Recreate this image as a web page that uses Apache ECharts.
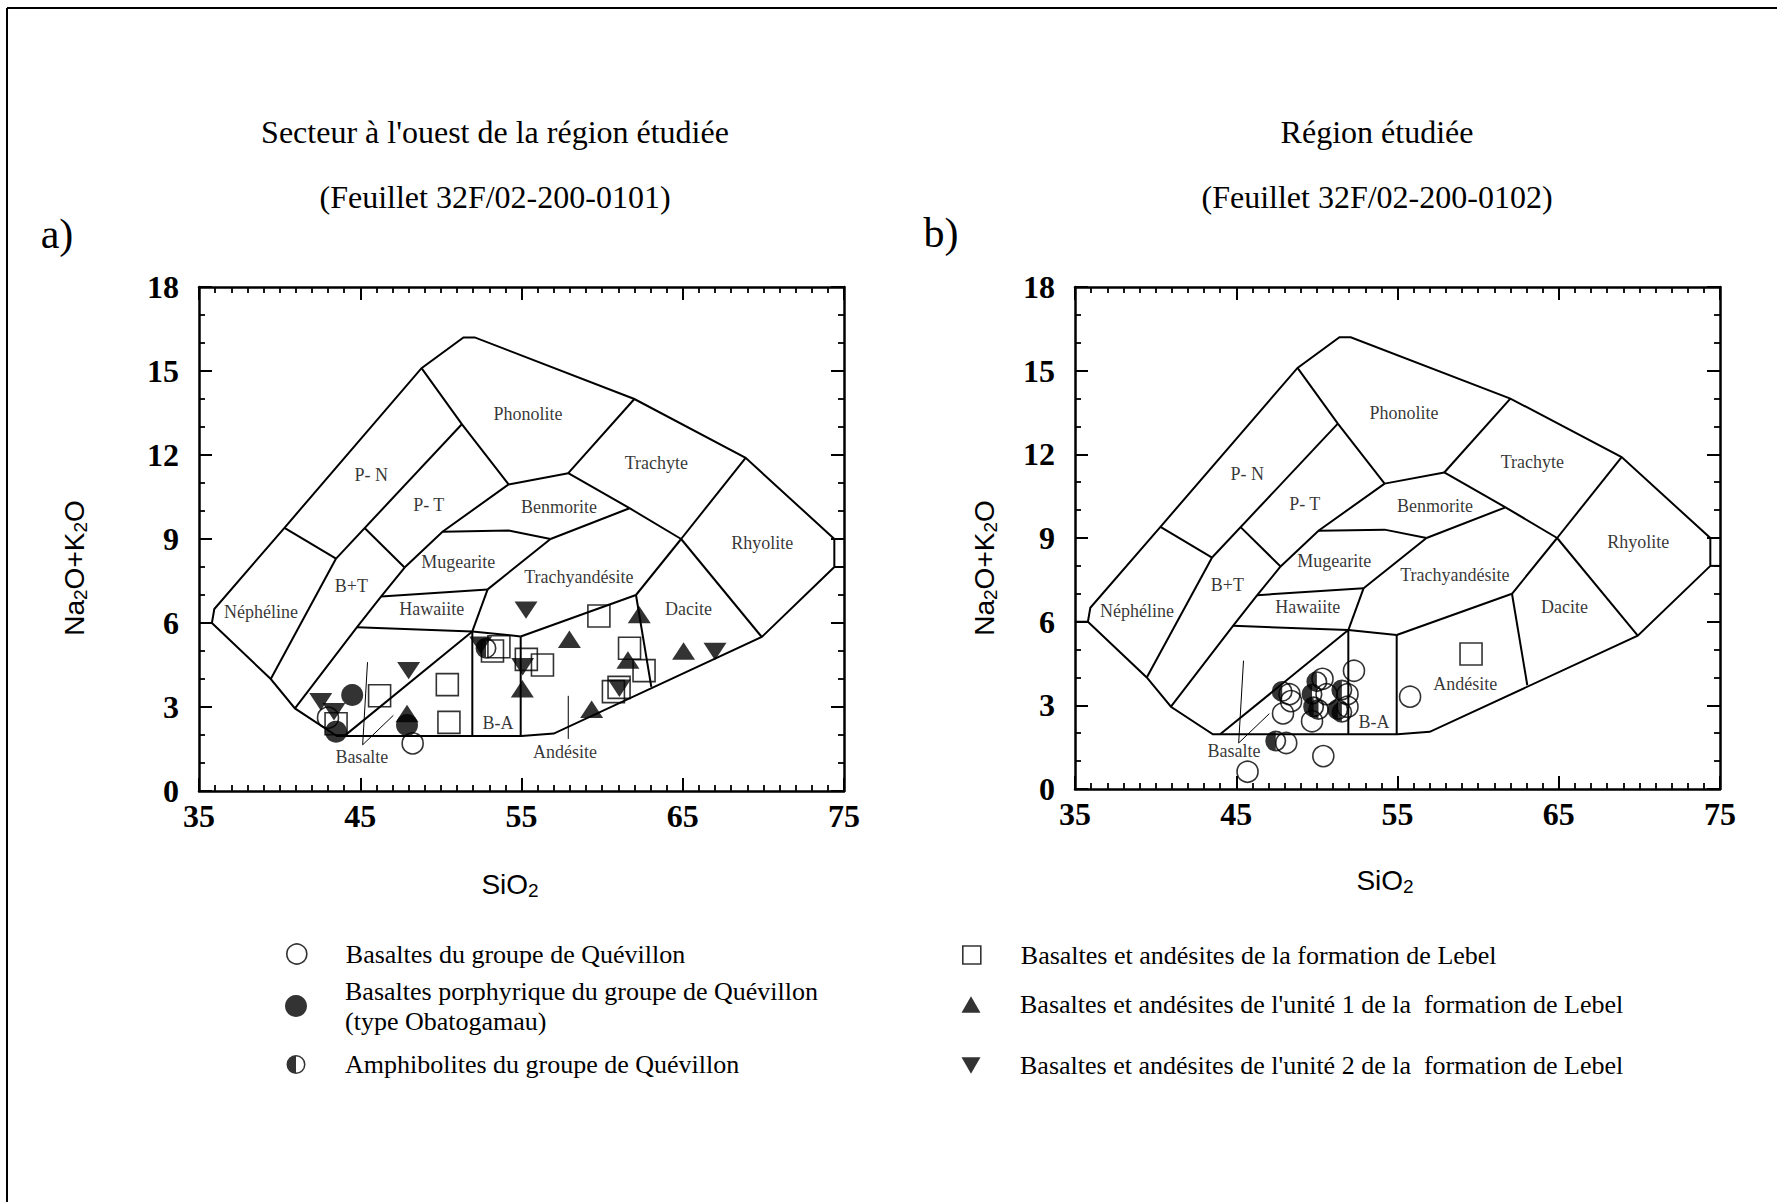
<!DOCTYPE html>
<html>
<head>
<meta charset="utf-8">
<script src="https://cdn.jsdelivr.net/npm/echarts@6/dist/echarts.min.js"></script>
<style>html,body{margin:0;padding:0;background:#fff}#c{width:1777px;height:1202px}</style>
</head>
<body>
<div id="c"></div>
<script>
// ---- axis ticks ----
const siTicks = [35, 45, 55, 65, 75];
const alkTicks = [0, 3, 6, 9, 12, 15, 18];

// ---- TAS field template (SiO2, Na2O+K2O) ----
const outerBoundary = [[35,6.0],[35.8,6.0],[35.95,6.5],[40.3,9.4],[48.8,15.1],[51.4,16.2],[52.1,16.2],[62.0,14.0],[68.9,11.9],[74.4,9.0],[74.4,8.0],[69.9,5.5],[57.0,2.05],[55.0,1.96],[43.55,1.96],[40.95,2.95],[39.45,4.0],[35.8,6.0]];
const innerBoundaries = [
  [[74.4,9.0],[75,9.0]],
  [[74.4,8.0],[75,8.0]],
  [[39.45,4.0],[43.5,8.3]],
  [[40.3,9.4],[43.5,8.3]],
  [[43.5,8.3],[51.3,13.1]],
  [[48.8,15.1],[51.3,13.1],[54.2,10.95]],
  [[45.27,9.39],[47.75,7.98]],
  [[47.75,7.98],[46.3,6.95],[44.8,5.85],[40.95,2.95]],
  [[47.75,7.98],[50.1,9.26],[54.2,10.95]],
  [[54.2,10.95],[57.9,11.35]],
  [[57.9,11.35],[62.0,14.0]],
  [[57.9,11.35],[61.7,10.1]],
  [[61.7,10.1],[56.8,9.0]],
  [[50.1,9.26],[54.2,9.3],[56.8,9.0]],
  [[61.7,10.1],[64.9,9.0]],
  [[64.9,9.0],[68.9,11.9]],
  [[64.9,9.0],[69.9,5.5]],
  [[64.9,9.0],[62.1,7.0]],
  [[56.8,9.0],[52.9,7.2]],
  [[46.3,6.95],[52.9,7.2]],
  [[52.9,7.2],[51.95,5.7]],
  [[44.8,5.85],[51.95,5.7]],
  [[51.95,5.7],[54.95,5.52]],
  [[54.95,5.52],[62.1,7.0]],
  [[62.1,7.0],[63.05,3.72]],
  [[51.95,5.7],[51.95,1.96]],
  [[54.95,5.52],[54.95,1.96]],
  [[44.0,1.96],[51.95,5.7]]
];
const basaltLeader = [[[45.45,4.6],[45.15,1.65],[47.05,2.7]]];
const andesiteTickWest = [[[57.9,3.4],[57.9,1.86]]];

const fieldLabels = [
  ['Phonolite',55.4,13.47],['Trachyte',63.36,11.71],['P- N',45.68,11.3],['P- T',49.25,10.22],
  ['Benmorite',57.33,10.15],['Rhyolite',69.93,8.85],['Mugearite',51.08,8.17],['B+T',44.45,7.32],
  ['Trachyandésite',58.56,7.66],['Néphéline',38.84,6.39],['Hawaiite',49.44,6.51],['Dacite',65.36,6.51],
  ['B-A',53.55,2.42]
];
const fieldLabelsWest = [['Basalte',45.1,1.2],['Andésite',57.7,1.4]];
const fieldLabelsStudy = [['Basalte',44.86,1.37],['Andésite',59.2,3.75]];

// ---- samples, panel a) (Feuillet 32F/02-200-0101) ----
const westOpenCircles = [[48.25,1.7],[43.0,2.62]];
const westFilledCircles = [[44.5,3.43],[43.5,2.12],[47.9,2.36]];
const westHalfCircles = [[52.8,5.1]];
const westSquares = [[46.2,3.4],[50.4,3.8],[50.5,2.45],[43.5,2.4],[53.2,5.0],[53.6,5.15],[55.3,4.7],[56.3,4.5],[59.8,6.25],[61.7,5.1],[62.6,4.3],[61.05,3.7],[60.7,3.55]];
const westUnit1 = [[47.9,2.77],[55.05,3.65],[57.97,5.42],[62.3,6.3],[61.6,4.68],[65.05,5.0],[59.35,2.92]];
const westUnit2 = [[42.55,3.19],[43.37,2.83],[48.0,4.3],[55.28,6.46],[55.07,4.44],[61.07,3.67],[67.0,4.98],[52.47,5.21]];

// ---- samples, panel b) (Feuillet 32F/02-200-0102) ----
const studyOpenCircles = [[52.3,4.24],[55.78,3.31],[48.3,3.4],[48.4,3.15],[47.9,2.71],[49.7,2.43],[48.1,1.65],[50.4,1.18],[45.7,0.62],[50.35,3.95],[51.9,3.4],[51.9,2.95],[50.6,3.4]];
const studyHalfCircles = [[47.85,3.5],[50.0,3.85],[49.7,3.4],[49.8,2.95],[50.1,2.85],[51.55,3.55],[51.3,2.85],[51.55,2.75],[47.45,1.72]];
const studySquares = [[59.56,4.84]];

// ---- series names ----
const N_OPEN = 'Basaltes du groupe de Quévillon';
const N_FILLED = 'Basaltes porphyrique du groupe de Quévillon (type Obatogamau)';
const N_HALF = 'Amphibolites du groupe de Quévillon';
const N_SQ = 'Basaltes et andésites de la formation de Lebel';
const N_UP = "Basaltes et andésites de l'unité 1 de la  formation de Lebel";
const N_DOWN = "Basaltes et andésites de l'unité 2 de la  formation de Lebel";

const SQUARE = 'path://M0,0L100,0L100,100L0,100Z';
const UP = 'path://M50,0L100,87L0,87Z';
const DOWN = 'path://M0,0L100,0L50,87Z';
const HALF = 'path://M50,0A50,50,0,0,0,50,100A50,50,0,0,0,50,0L50,8A42,42,0,0,1,50,92Z';

const SERIF = 'Liberation Serif';
const SANS = 'Liberation Sans';

const chart = echarts.init(document.getElementById('c'), null, {renderer: 'svg', width: 1777, height: 1202});

function xAxisCfg(g, pos, showLabel) {
  return {
    type: 'value', gridIndex: g, position: pos,
    min: siTicks[0], max: siTicks[siTicks.length - 1], interval: siTicks[1] - siTicks[0],
    axisLine: {show: true, onZero: false, lineStyle: {color: '#000', width: 2.5}},
    axisTick: {show: true, inside: true, length: 13, lineStyle: {color: '#000', width: 2}},
    minorTick: {show: true, splitNumber: 10, length: 6, lineStyle: {color: '#000', width: 1.8}},
    splitLine: {show: false}, minorSplitLine: {show: false},
    axisLabel: {show: showLabel, margin: 9, color: '#000', fontFamily: SERIF, fontWeight: 'bold', fontSize: 32}
  };
}
function yAxisCfg(g, pos, showLabel) {
  return {
    type: 'value', gridIndex: g, position: pos,
    min: alkTicks[0], max: alkTicks[alkTicks.length - 1], interval: alkTicks[1] - alkTicks[0],
    axisLine: {show: true, onZero: false, lineStyle: {color: '#000', width: 2.5}},
    axisTick: {show: true, inside: true, length: 13, lineStyle: {color: '#000', width: 2}},
    minorTick: {show: true, splitNumber: 3, length: 6, lineStyle: {color: '#000', width: 1.8}},
    splitLine: {show: false}, minorSplitLine: {show: false},
    axisLabel: {show: showLabel, margin: 20, color: '#000', fontFamily: SERIF, fontWeight: 'bold', fontSize: 32}
  };
}

function linesSeries(p, polylines, width) {
  return {
    type: 'lines', coordinateSystem: 'cartesian2d', xAxisIndex: p * 2, yAxisIndex: p * 2,
    polyline: true, silent: true, z: 2,
    lineStyle: {color: '#000', width: width, opacity: 1, curveness: 0},
    data: polylines.map(c => ({coords: c}))
  };
}
function labelSeries(p, labels) {
  return {
    type: 'scatter', name: '_labels' + p, xAxisIndex: p * 2, yAxisIndex: p * 2,
    symbolSize: 1, itemStyle: {color: 'rgba(0,0,0,0)'}, silent: true, z: 3,
    emphasis: {disabled: true},
    label: {show: true, position: 'inside', formatter: '{b}', fontFamily: SERIF, fontSize: 18, color: '#000'},
    data: labels.map(l => ({name: l[0], value: [l[1], l[2]]}))
  };
}
function pts(p, name, data, symbol, size, itemStyle, z) {
  return {
    type: 'scatter', name: name, xAxisIndex: p * 2, yAxisIndex: p * 2,
    data: data, symbol: symbol, symbolSize: size, symbolKeepAspect: true,
    itemStyle: itemStyle, z: z, silent: true, emphasis: {disabled: true}
  };
}
const openStyle = {color: 'rgba(0,0,0,0)', borderColor: '#000', borderWidth: 1.6};
const solidStyle = {color: '#000', borderWidth: 0};

// legend item: icon centred at cx, row centred at cy, text starting at tx
function leg(name, cx, cy, tx, w, h, bw) {
  const left = cx - w / 2;
  const pad = Math.max(0, tx - (left + w + 5));
  return {
    data: [name], left: left, top: cy - h / 2, orient: 'horizontal', padding: 0,
    itemWidth: w, itemHeight: h, selectedMode: false, symbolKeepAspect: true,
    formatter: n => n.replace(' (type', '\n(type'),
    itemStyle: {borderWidth: bw},
    textStyle: {fontFamily: SERIF, fontSize: 26, color: '#000', lineHeight: 30, padding: [0, 0, 0, pad]}
  };
}

function txt(x, y, text, size, family) {
  return {type: 'text', x: x, y: y, silent: true,
    style: {text: text, fontSize: size, fontFamily: family, fill: '#000', align: 'center', verticalAlign: 'middle'}};
}
function subTxt(x, y, text, rot) {
  return {type: 'text', x: x, y: y, rotation: rot, silent: true,
    style: {text: text, align: 'center', verticalAlign: 'middle', fill: '#000',
      rich: {
        a: {fontSize: 28, fontFamily: SANS, fill: '#000', lineHeight: 32},
        s: {fontSize: 19, fontFamily: SANS, fill: '#000', lineHeight: 12, verticalAlign: 'bottom'}
      }}};
}

const option = {
  animation: false,
  backgroundColor: '#fff',
  grid: [
    {left: 199, top: 287, width: 645, height: 504},
    {left: 1075, top: 287, width: 645, height: 502}
  ],
  xAxis: [xAxisCfg(0, 'bottom', true), xAxisCfg(0, 'top', false), xAxisCfg(1, 'bottom', true), xAxisCfg(1, 'top', false)],
  yAxis: [yAxisCfg(0, 'left', true), yAxisCfg(0, 'right', false), yAxisCfg(1, 'left', true), yAxisCfg(1, 'right', false)],
  legend: [
    leg(N_OPEN, 296, 949, 345, 20, 20, 1.6),
    leg(N_FILLED, 296, 987, 345, 22, 22, 0),
    leg(N_HALF, 296, 1059, 345, 19, 19, 0),
    leg(N_SQ, 971, 949, 1020, 18, 18, 1.6),
    leg(N_UP, 971, 998, 1020, 19, 17, 0),
    leg(N_DOWN, 971, 1059, 1020, 19, 17, 0)
  ],
  graphic: [
    {type: 'line', silent: true, shape: {x1: 7, y1: 8, x2: 1777, y2: 8}, style: {stroke: '#000', lineWidth: 2}},
    {type: 'line', silent: true, shape: {x1: 7, y1: 8, x2: 7, y2: 1202}, style: {stroke: '#000', lineWidth: 2}},
    txt(495, 132, "Secteur à l'ouest de la région étudiée", 32, SERIF),
    txt(495, 197, '(Feuillet 32F/02-200-0101)', 32, SERIF),
    txt(1377, 132, 'Région étudiée', 32, SERIF),
    txt(1377, 197, '(Feuillet 32F/02-200-0102)', 32, SERIF),
    txt(57, 234, 'a)', 42, SERIF),
    txt(941, 233, 'b)', 42, SERIF),
    subTxt(74, 568, '{a|Na}{s|2}{a|O+K}{s|2}{a|O}', Math.PI / 2),
    subTxt(984, 568, '{a|Na}{s|2}{a|O+K}{s|2}{a|O}', Math.PI / 2),
    subTxt(510, 884, '{a|SiO}{s|2}', 0),
    subTxt(1385, 880, '{a|SiO}{s|2}', 0)
  ],
  series: [
    linesSeries(0, [outerBoundary].concat(innerBoundaries), 2),
    linesSeries(0, basaltLeader.concat(andesiteTickWest), 1),
    labelSeries(0, fieldLabels.concat(fieldLabelsWest)),
    pts(0, N_SQ, westSquares, SQUARE, 22, openStyle, 4),
    pts(0, N_OPEN, westOpenCircles, 'circle', 21, openStyle, 4),
    pts(0, N_HALF, westHalfCircles, HALF, 21, solidStyle, 5),
    pts(0, N_UP, westUnit1, UP, [23, 20], solidStyle, 5),
    pts(0, N_DOWN, westUnit2, DOWN, [23, 20], solidStyle, 5),
    pts(0, N_FILLED, westFilledCircles, 'circle', 22, solidStyle, 6),

    linesSeries(1, [outerBoundary].concat(innerBoundaries), 2),
    linesSeries(1, basaltLeader, 1),
    labelSeries(1, fieldLabels.concat(fieldLabelsStudy)),
    pts(1, N_SQ, studySquares, SQUARE, 22, openStyle, 4),
    pts(1, N_OPEN, studyOpenCircles, 'circle', 21, openStyle, 4),
    pts(1, N_HALF, studyHalfCircles, HALF, 21, solidStyle, 5)
  ]
};
chart.setOption(option);
</script>
</body>
</html>
